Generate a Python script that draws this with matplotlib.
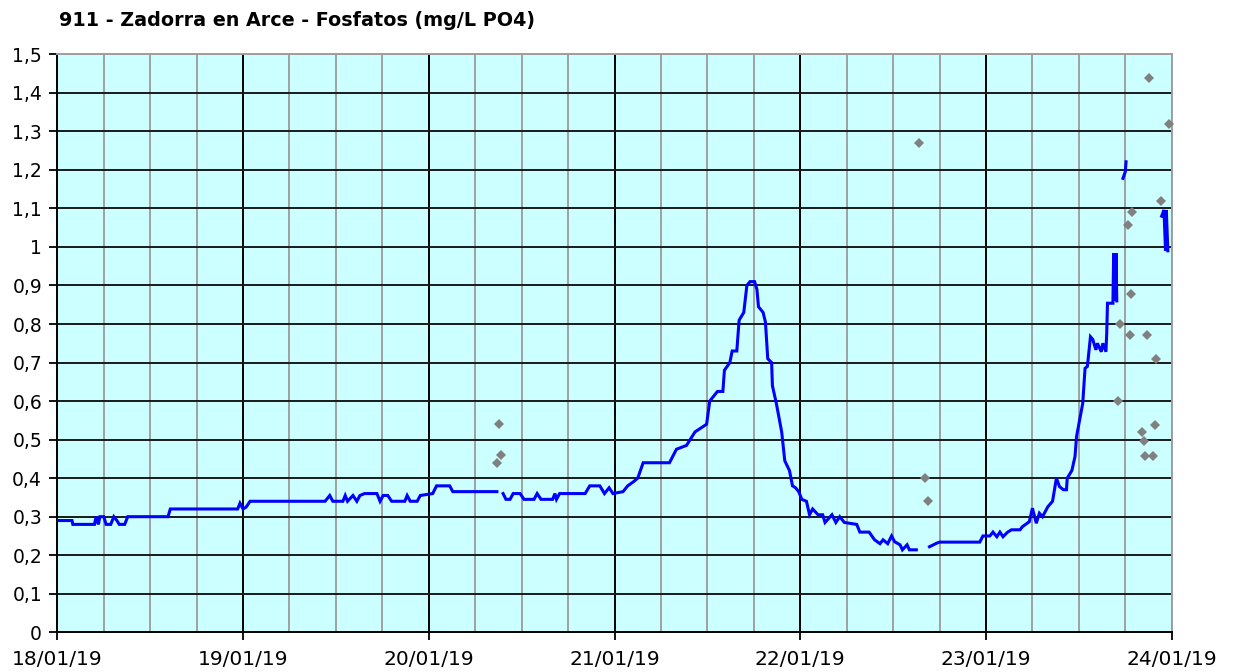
import numpy as np
import matplotlib
matplotlib.use("Agg")
import matplotlib.pyplot as plt
from matplotlib.ticker import MultipleLocator, FixedLocator

# ---- data (hours since 18/01/19 00:00) ----
line_hours = [0.0, 1.9, 2.0, 4.8, 5.0, 5.3, 5.5, 6.0, 6.3, 6.9, 7.3, 7.7, 8.0, 8.7, 9.1,
              14.3, 14.6, 23.3, 23.6, 24.0, 24.4, 24.9, 34.6, 35.2, 35.6, 36.9, 37.2, 37.5,
              38.2, 38.7, 39.1, 39.7, 41.3, 41.7, 42.1, 42.7, 43.2, 44.9, 45.2, 45.6, 46.5,
              46.9, 48.5, 49.0, 50.7, 51.1, 56.8, 57.2,
              57.6, 57.97, 58.5, 58.9, 59.8, 60.3, 61.6, 62.0, 62.5, 64.0, 64.3, 64.5, 64.9,
              68.2, 68.8, 70.1, 70.7, 71.3, 71.8, 73.1, 73.7, 74.4, 75.0, 75.7, 79.1, 80.0,
              81.3, 82.4, 83.9, 84.3, 85.3, 86.0, 86.2, 86.9, 87.2, 87.8, 88.1, 88.7, 89.1,
              89.5, 90.1, 90.4, 90.6, 91.2, 91.5, 91.8, 92.3, 92.4, 92.9, 93.6, 94.0, 94.6,
              95.0, 95.4, 95.8, 96.2, 96.8, 97.2, 97.6, 98.3, 98.9, 99.2, 100.1, 100.6,
              101.1, 101.7, 103.3, 103.7, 104.9, 105.6, 106.3, 106.7, 107.3, 107.8, 108.2,
              108.9, 109.2, 109.8, 110.1, 111.0, 111.8,
              112.7, 113.6, 114.0, 119.2, 119.6, 120.5, 120.9, 121.4, 121.8, 122.2, 122.8,
              123.3, 124.4, 124.7, 125.6, 126.0, 126.5, 126.9, 127.3, 128.0, 128.6, 129.1,
              129.5, 130.0, 130.4, 130.5, 131.1, 131.5, 131.7, 132.1, 132.5, 132.8, 133.1,
              133.5, 133.8, 134.2, 134.4, 134.9, 135.1, 135.5, 135.6, 135.7, 136.4, 136.5,
              136.7, 136.8, 136.9, 137.3,
              137.7, 138.0, 138.1, 140.0,
              142.7, 143.0, 143.2, 143.3, 143.5]
line_values = [0.29, 0.29, 0.28, 0.28, 0.30, 0.28, 0.30, 0.30, 0.28, 0.28, 0.30, 0.29, 0.28, 0.28, 0.30,
               0.30, 0.32, 0.32, 0.335, 0.32, 0.325, 0.34, 0.34, 0.355, 0.34, 0.34, 0.355, 0.34,
               0.355, 0.34, 0.355, 0.36, 0.36, 0.34, 0.355, 0.355, 0.34, 0.34, 0.355, 0.34, 0.34,
               0.355, 0.36, 0.38, 0.38, 0.365, 0.365, np.nan,
               0.36, 0.345, 0.345, 0.36, 0.36, 0.345, 0.345, 0.36, 0.345, 0.345, 0.36, 0.345, 0.36,
               0.36, 0.38, 0.38, 0.36, 0.375, 0.36, 0.365, 0.38, 0.39, 0.40, 0.44, 0.44, 0.475,
               0.485, 0.52, 0.54, 0.60, 0.625, 0.625, 0.68, 0.70, 0.73, 0.73, 0.81, 0.83, 0.90,
               0.91, 0.91, 0.89, 0.845, 0.83, 0.805, 0.71, 0.70, 0.64, 0.595, 0.52, 0.445, 0.42,
               0.38, 0.375, 0.365, 0.345, 0.34, 0.305, 0.32, 0.305, 0.305, 0.285, 0.305, 0.285,
               0.30, 0.285, 0.28, 0.26, 0.26, 0.24, 0.23, 0.24, 0.23, 0.25, 0.235,
               0.227, 0.214, 0.227, 0.214, 0.214, np.nan,
               0.222, 0.231, 0.234, 0.234, 0.25, 0.25, 0.26, 0.248, 0.26, 0.248, 0.26,
               0.266, 0.266, 0.274, 0.287, 0.322, 0.283, 0.309, 0.30, 0.326, 0.34, 0.40,
               0.378, 0.37, 0.37, 0.40, 0.42, 0.456, 0.508, 0.551, 0.594, 0.685, 0.69,
               0.767, 0.76, 0.733, 0.75, 0.728, 0.75, 0.728, 0.776, 0.854, 0.854, 0.984,
               0.86, 0.984, 0.86, np.nan,
               1.178, 1.195, 1.221, np.nan,
               1.08, 1.096, 0.99, 1.096, 0.99]

point_hours = [56.8, 57.3, 57.1, 111.3, 112.1, 112.5, 137.0, 137.3, 138.3, 138.6, 138.8,
               138.9, 140.1, 140.4, 140.6, 140.8, 141.0, 141.6, 141.9, 142.0, 142.6, 143.6]
point_values = [0.44, 0.46, 0.54, 1.27, 0.40, 0.34, 0.60, 0.80, 1.057, 0.772, 0.878,
                1.09, 0.52, 0.497, 0.458, 0.772, 1.438, 0.458, 0.538, 0.709, 1.12, 1.32]

day_labels = ['18/01/19', '19/01/19', '20/01/19', '21/01/19', '22/01/19', '23/01/19', '24/01/19']
y_labels = ['0', '0,1', '0,2', '0,3', '0,4', '0,5', '0,6', '0,7', '0,8', '0,9',
            '1', '1,1', '1,2', '1,3', '1,4', '1,5']
title = '911 - Zadorra en Arce - Fosfatos (mg/L PO4)'

plt.rcParams['font.family'] = ['DejaVu Sans']

fig = plt.figure(figsize=(12.33, 6.72), dpi=100)
ax = fig.add_axes([0.0465, 0.0591, 0.9038, 0.8601])
ax.set_facecolor('#ccffff')

ax.set_xlim(0, 24 * (len(day_labels) - 1))
ax.set_ylim(0, 1.5)

ax.xaxis.set_major_locator(FixedLocator([24 * i for i in range(len(day_labels))]))
ax.set_xticklabels(day_labels)
ax.xaxis.set_minor_locator(MultipleLocator(6))
ax.yaxis.set_major_locator(FixedLocator([i / 10 for i in range(len(y_labels))]))
ax.set_yticklabels(y_labels)

ax.grid(which='minor', axis='x', color='#a0a0a0', lw=1.4, zorder=0)
ax.grid(which='major', axis='x', color='#000000', lw=1.4, zorder=0)
ax.grid(which='major', axis='y', color='#1a1a1a', lw=1.4, zorder=0)
ax.set_axisbelow(True)

ax.tick_params(axis='x', which='major', direction='out', length=6, width=1.3,
               pad=7, labelsize=14.5, colors='black')
ax.tick_params(axis='x', which='minor', length=0)
ax.tick_params(axis='y', which='major', direction='out', length=6, width=1.3,
               pad=5, labelsize=13.5, colors='black')

for s in ['left', 'bottom']:
    ax.spines[s].set_color('black')
    ax.spines[s].set_linewidth(1.4)
for s in ['top', 'right']:
    ax.spines[s].set_color('#a0a0a0')
    ax.spines[s].set_linewidth(1.4)

ax.plot(line_hours, line_values, color='#0000ff', lw=2.2, zorder=3,
        solid_joinstyle='miter')
ax.plot(point_hours, point_values, linestyle='none', marker='D', markersize=5.5,
        color='#808080', markeredgewidth=0, zorder=4, clip_on=False)

fig.text(0.048, 0.969, title, ha='left', va='center', fontsize=13.8,
         fontweight='bold', color='black')

fig.savefig('out.png', dpi=100)
